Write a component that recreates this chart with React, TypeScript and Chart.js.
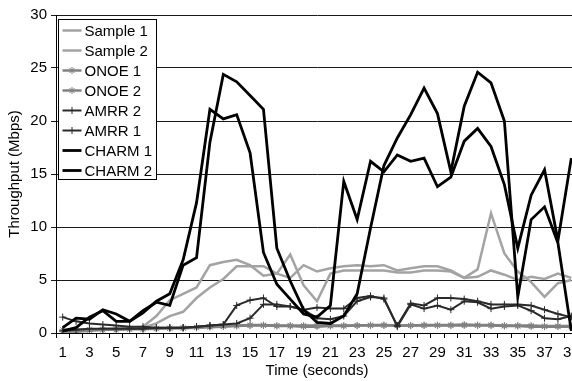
import React, { useEffect, useRef } from 'react';
import { Chart, registerables } from 'chart.js';

Chart.register(...registerables);

const timeLabels = ['1','2','3','4','5','6','7','8','9','10','11','12','13','14','15','16','17','18','19','20','21','22','23','24','25','26','27','28','29','30','31','32','33','34','35','36','37','38','39'];

const sample1 = [0.2,0.2,0.3,0.4,0.4,0.5,0.6,1.6,3.1,3.7,4.3,6.4,6.7,6.9,6.4,5.4,5.6,7.4,4.5,3.0,5.6,5.9,5.9,5.9,5.9,5.7,5.7,5.9,5.9,5.8,5.2,6.0,11.3,7.5,5.8,4.8,3.4,4.7,5.0];
const sample2 = [0.1,0.1,0.2,0.3,0.3,0.4,0.5,0.9,1.6,2.0,3.3,4.3,5.1,6.3,6.3,6.3,5.6,5.2,6.4,5.8,6.1,6.3,6.4,6.3,6.4,5.9,6.1,6.3,6.3,5.9,5.2,5.3,5.9,5.5,5.0,5.3,5.1,5.6,5.2];
const onoe1 = [0.3,0.3,0.35,0.35,0.4,0.4,0.4,0.45,0.45,0.5,0.55,0.6,0.65,0.7,0.75,0.75,0.7,0.7,0.7,0.7,0.7,0.7,0.7,0.75,0.75,0.7,0.7,0.75,0.75,0.75,0.8,0.75,0.75,0.7,0.7,0.7,0.65,0.65,0.65];
const onoe2 = [0.15,0.2,0.25,0.3,0.3,0.35,0.35,0.4,0.45,0.45,0.5,0.55,0.6,0.65,0.7,0.7,0.65,0.65,0.6,0.6,0.65,0.65,0.7,0.7,0.7,0.7,0.7,0.7,0.7,0.7,0.7,0.7,0.7,0.65,0.65,0.6,0.6,0.6,0.6];
const amrr2 = [1.5,1.1,0.9,0.8,0.7,0.6,0.6,0.5,0.5,0.5,0.6,0.7,0.8,2.6,3.1,3.3,2.5,2.5,2.2,2.4,2.3,2.3,3.3,3.5,3.2,0.7,2.8,2.6,3.3,3.3,3.2,3.0,2.7,2.7,2.7,2.6,2.2,1.8,1.5];
const amrr1 = [0.2,0.3,0.4,0.4,0.4,0.4,0.4,0.5,0.5,0.5,0.6,0.7,0.8,0.9,1.4,2.7,2.7,2.5,2.2,1.4,1.3,1.6,3.0,3.4,3.3,0.6,2.7,2.3,2.6,2.2,3.0,2.9,2.3,2.5,2.6,2.1,1.4,1.3,1.6];
const charm1 = [0.2,0.5,1.5,2.1,1.1,1.1,2.1,2.9,2.6,6.4,7.1,18.0,24.4,23.7,22.4,21.1,8.0,4.9,2.2,1.0,0.9,1.6,3.7,9.9,15.8,18.4,20.6,23.1,20.7,15.2,21.4,24.6,23.6,20.0,3.4,10.7,11.9,8.5,0.2];
const charm2 = [0.5,1.4,1.3,2.2,1.8,1.1,1.9,3.0,3.7,6.9,12.3,21.1,20.2,20.6,17.0,7.6,4.6,3.2,1.8,1.5,2.6,14.3,10.7,16.2,15.2,16.8,16.2,16.5,13.8,14.7,18.1,19.3,17.6,14.0,8.0,13.0,15.4,8.7,16.5];

const FONT = '"Liberation Sans", Arial, sans-serif';
const SAMPLE_C = '#a3a3a3';
const ONOE_C = '#808080';
const AMRR_C = '#2a2a2a';
const CHARM_C = '#000000';

type Item = { label: string; color: string; width: number; marker: string | null };

const legendItems: Item[] = [
  { label: 'Sample 1', color: SAMPLE_C, width: 2.5, marker: null },
  { label: 'Sample 2', color: SAMPLE_C, width: 2.5, marker: null },
  { label: 'ONOE 1', color: ONOE_C, width: 2.5, marker: 'star' },
  { label: 'ONOE 2', color: ONOE_C, width: 2.5, marker: 'star' },
  { label: 'AMRR 2', color: AMRR_C, width: 2, marker: 'cross' },
  { label: 'AMRR 1', color: AMRR_C, width: 2, marker: 'cross' },
  { label: 'CHARM 1', color: CHARM_C, width: 2.8, marker: null },
  { label: 'CHARM 2', color: CHARM_C, width: 2.8, marker: null },
];

const boxLegend = {
  id: 'boxLegend',
  afterDatasetsDraw(chart: any) {
    const ctx = chart.ctx as CanvasRenderingContext2D;
    const left = chart.chartArea.left + 2.5;
    const top = 19.5;
    const w = 98;
    const h = 160;
    ctx.save();
    ctx.fillStyle = '#ffffff';
    ctx.fillRect(left, top, w, h);
    ctx.strokeStyle = '#000';
    ctx.lineWidth = 1;
    ctx.strokeRect(left, top, w, h);
    ctx.font = '15px ' + FONT;
    ctx.textBaseline = 'middle';
    ctx.textAlign = 'left';
    legendItems.forEach((it, i) => {
      const y = top + 11 + i * 20;
      ctx.strokeStyle = it.color;
      ctx.lineWidth = it.width;
      ctx.beginPath();
      ctx.moveTo(left + 4, y);
      ctx.lineTo(left + 23, y);
      ctx.stroke();
      const mx = left + 13.5;
      const r = 3.5;
      if (it.marker) {
        ctx.lineWidth = 1;
        ctx.beginPath();
        if (it.marker === 'star') {
          const d = r * 0.7071;
          ctx.moveTo(mx - d, y - d); ctx.lineTo(mx + d, y + d);
          ctx.moveTo(mx - d, y + d); ctx.lineTo(mx + d, y - d);
          ctx.moveTo(mx, y - r); ctx.lineTo(mx, y + r);
        } else {
          ctx.moveTo(mx, y - r); ctx.lineTo(mx, y + r);
        }
        ctx.stroke();
      }
      ctx.fillStyle = '#000';
      ctx.fillText(it.label, left + 26, y + 1);
    });
    ctx.restore();
  },
};

export default function App() {
  const ref = useRef<HTMLCanvasElement>(null);
  useEffect(() => {
    if (!ref.current) return;
    const mk = (label: string, data: number[], color: string, width: number, marker: string | false, order: number) => ({
      label,
      data,
      borderColor: color,
      backgroundColor: color,
      borderWidth: width,
      pointStyle: marker || 'circle',
      pointRadius: marker ? 3.5 : 0,
      pointBorderWidth: 1,
      pointBorderColor: color,
      fill: false,
      tension: 0,
      order,
    });
    const chart = new Chart(ref.current, {
      type: 'line',
      data: {
        labels: timeLabels,
        datasets: [
          mk('Sample 1', sample1, SAMPLE_C, 2.5, false, 8),
          mk('Sample 2', sample2, SAMPLE_C, 2.5, false, 7),
          mk('ONOE 1', onoe1, ONOE_C, 2.5, 'star', 6),
          mk('ONOE 2', onoe2, ONOE_C, 2.5, 'star', 5),
          mk('AMRR 2', amrr2, AMRR_C, 2, 'cross', 4),
          mk('AMRR 1', amrr1, AMRR_C, 2, 'cross', 3),
          mk('CHARM 1', charm1, CHARM_C, 2.8, false, 2),
          mk('CHARM 2', charm2, CHARM_C, 2.8, false, 1),
        ] as any,
      },
      options: {
        animation: false,
        responsive: false,
        maintainAspectRatio: false,
        layout: { padding: { top: 15, right: 12, bottom: 0, left: 0 } },
        plugins: { legend: { display: false }, tooltip: { enabled: false } },
        scales: {
          x: {
            type: 'category',
            offset: true,
            grid: { offset: true, drawOnChartArea: false, drawTicks: true, tickLength: 5, color: '#000' },
            border: { display: true, color: '#000' },
            ticks: {
              autoSkip: false,
              maxRotation: 0,
              minRotation: 0,
              padding: 6,
              color: '#000',
              font: { family: FONT, size: 15 },
              callback: (_v: any, i: number) => (i % 2 === 0 ? timeLabels[i] : ''),
            },
            title: { display: true, text: 'Time (seconds)', color: '#000', font: { family: FONT, size: 15 }, padding: { top: 0, bottom: 1 } },
            afterFit: (s: any) => { s.height = 48; },
          },
          y: {
            min: 0,
            max: 30,
            ticks: { stepSize: 5, color: '#000', padding: 4, font: { family: FONT, size: 15 } },
            grid: { color: '#1a1a1a', tickLength: 5, drawTicks: true },
            border: { display: true, color: '#000' },
            title: { display: true, text: 'Throughput (Mbps)', color: '#000', font: { family: FONT, size: 15 }, padding: { top: 6, bottom: 0 } },
            afterFit: (s: any) => { s.width = 56; },
          },
        },
      } as any,
      plugins: [boxLegend],
    });
    return () => chart.destroy();
  }, []);
  return (
    <div style={{ position: 'fixed', left: 0, top: 0, width: 590, height: 381, overflow: 'hidden', background: '#fff' }}>
      <canvas ref={ref} width={590} height={381} style={{ display: 'block', width: 590, height: 381 }} />
    </div>
  );
}
